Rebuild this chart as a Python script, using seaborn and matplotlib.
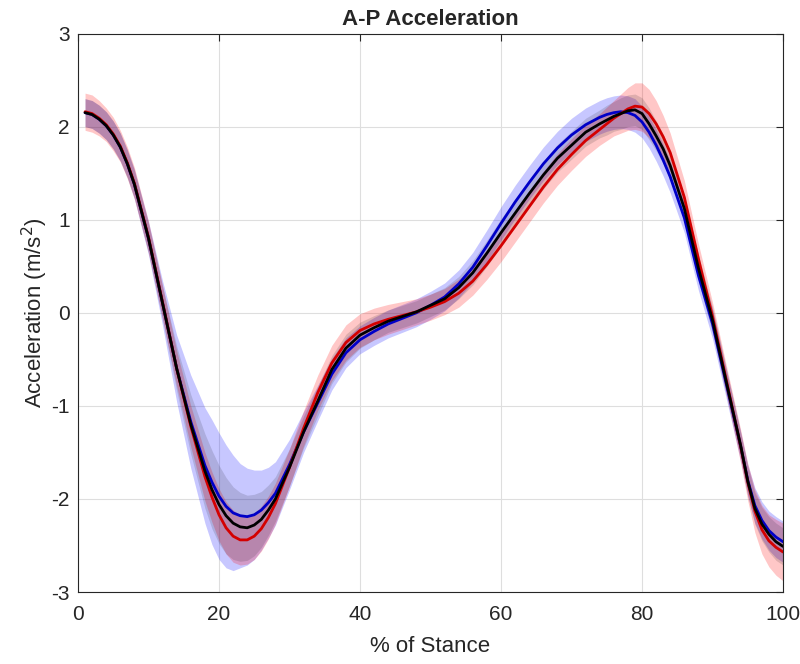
import pandas as pd
import matplotlib
matplotlib.use('Agg')
import matplotlib.pyplot as plt
import seaborn as sns

# % of stance sample points (denser where the curves bend)
stance = [1, 2, 3, 4, 5, 6, 7, 8, 10, 12, 14, 16, 18, 19, 20, 21, 22, 23, 24, 25,
          26, 27, 28, 30, 32, 34, 36, 38, 40, 42, 44, 46, 48, 50, 52, 54, 56, 58, 60, 62,
          64, 66, 68, 70, 72, 74, 75, 76, 77, 78, 79, 80, 81, 82, 83, 84, 86, 88, 90, 92,
          94, 95, 96, 97, 98, 99, 100]

# mean curves
black_mean = [2.15, 2.13, 2.08, 2.01, 1.91, 1.78, 1.60, 1.38, 0.80, 0.10,
              -0.60, -1.20, -1.70, -1.90, -2.06, -2.18, -2.26, -2.30, -2.31, -2.28,
              -2.22, -2.12, -2.00, -1.66, -1.28, -0.95, -0.61, -0.38, -0.24, -0.16,
              -0.09, -0.04, 0.01, 0.08, 0.15, 0.27, 0.43, 0.64, 0.86, 1.07,
              1.28, 1.48, 1.66, 1.80, 1.94, 2.03, 2.07, 2.11, 2.14, 2.17,
              2.18, 2.14, 2.03, 1.90, 1.76, 1.58, 1.12, 0.48, -0.08, -0.76,
              -1.43, -1.81, -2.10, -2.27, -2.38, -2.46, -2.51]
blue_mean = [2.15, 2.13, 2.08, 2.01, 1.91, 1.78, 1.60, 1.38, 0.80, 0.10,
             -0.60, -1.17, -1.64, -1.82, -1.97, -2.08, -2.15, -2.18, -2.19, -2.17,
             -2.12, -2.04, -1.94, -1.63, -1.28, -0.97, -0.66, -0.43, -0.29, -0.20,
             -0.12, -0.06, 0.00, 0.08, 0.17, 0.31, 0.49, 0.72, 0.96, 1.19,
             1.40, 1.60, 1.77, 1.91, 2.02, 2.10, 2.13, 2.15, 2.16, 2.15,
             2.12, 2.05, 1.94, 1.80, 1.64, 1.46, 1.02, 0.40, -0.12, -0.78,
             -1.44, -1.80, -2.07, -2.23, -2.34, -2.41, -2.46]
red_mean = [2.16, 2.14, 2.09, 2.02, 1.92, 1.79, 1.61, 1.39, 0.81, 0.11,
            -0.60, -1.22, -1.76, -1.98, -2.17, -2.31, -2.40, -2.44, -2.44, -2.40,
            -2.32, -2.20, -2.05, -1.66, -1.24, -0.86, -0.54, -0.32, -0.19, -0.12,
            -0.07, -0.03, 0.01, 0.06, 0.12, 0.21, 0.34, 0.52, 0.72, 0.93,
            1.14, 1.35, 1.54, 1.70, 1.85, 1.97, 2.03, 2.09, 2.14, 2.19,
            2.22, 2.21, 2.14, 2.03, 1.89, 1.72, 1.24, 0.58, -0.04, -0.74,
            -1.44, -1.82, -2.13, -2.33, -2.45, -2.52, -2.57]

# standard deviations (shaded bands)
black_sd = [0.15, 0.15, 0.15, 0.15, 0.15, 0.15, 0.15, 0.15, 0.16, 0.18,
            0.24, 0.32, 0.40, 0.42, 0.42, 0.41, 0.39, 0.37, 0.35, 0.33,
            0.30, 0.27, 0.24, 0.20, 0.17, 0.16, 0.15, 0.15, 0.14, 0.13,
            0.12, 0.12, 0.12, 0.12, 0.12, 0.12, 0.13, 0.14, 0.15, 0.15,
            0.15, 0.15, 0.15, 0.15, 0.15, 0.15, 0.16, 0.16, 0.17, 0.17,
            0.17, 0.17, 0.17, 0.16, 0.16, 0.15, 0.14, 0.14, 0.14, 0.14,
            0.14, 0.16, 0.17, 0.18, 0.19, 0.20, 0.20]
blue_sd = [0.15, 0.15, 0.15, 0.15, 0.15, 0.15, 0.15, 0.16, 0.18, 0.24,
           0.36, 0.50, 0.62, 0.67, 0.68, 0.66, 0.62, 0.56, 0.52, 0.48,
           0.43, 0.38, 0.34, 0.27, 0.22, 0.19, 0.17, 0.16, 0.15, 0.15,
           0.15, 0.15, 0.15, 0.15, 0.15, 0.15, 0.16, 0.17, 0.18, 0.18,
           0.18, 0.18, 0.18, 0.18, 0.18, 0.18, 0.18, 0.18, 0.18, 0.18,
           0.18, 0.17, 0.17, 0.17, 0.17, 0.17, 0.16, 0.16, 0.16, 0.16,
           0.16, 0.17, 0.19, 0.20, 0.21, 0.22, 0.22]
red_sd = [0.20, 0.20, 0.19, 0.18, 0.18, 0.17, 0.17, 0.17, 0.17, 0.18,
          0.19, 0.22, 0.26, 0.27, 0.28, 0.28, 0.28, 0.27, 0.26, 0.25,
          0.24, 0.23, 0.22, 0.20, 0.19, 0.19, 0.19, 0.19, 0.18, 0.17,
          0.16, 0.15, 0.14, 0.14, 0.14, 0.15, 0.15, 0.16, 0.17, 0.17,
          0.17, 0.17, 0.17, 0.17, 0.17, 0.17, 0.18, 0.19, 0.21, 0.23,
          0.25, 0.26, 0.26, 0.25, 0.23, 0.21, 0.18, 0.16, 0.15, 0.16,
          0.18, 0.20, 0.23, 0.26, 0.28, 0.30, 0.31]

groups = ['blue', 'red', 'black']
line_colors = {'blue': '#0000c8', 'red': '#d40000', 'black': '#000000'}
band_colors = {'blue': '#0000ff', 'red': '#ff0000', 'black': '#000000'}
band_alpha = {'blue': 0.22, 'red': 0.22, 'black': 0.13}

means = {'blue': blue_mean, 'red': red_mean, 'black': black_mean}
sds = {'blue': blue_sd, 'red': red_sd, 'black': black_sd}

rows = []
for g in groups:
    for x, m, s in zip(stance, means[g], sds[g]):
        rows.append({'stance': x, 'acc': m, 'sd': s, 'group': g})
df = pd.DataFrame(rows)

sns.set_style('white')
plt.rcParams['font.family'] = ['Liberation Sans', 'DejaVu Sans']
plt.rcParams['axes.unicode_minus'] = False

fig = plt.figure(figsize=(8, 6.64), dpi=100)
ax = fig.add_axes([0.0975, 0.1084, 0.8813, 0.8411])

for g in groups:
    d = df[df['group'] == g]
    ax.fill_between(d['stance'], d['acc'] - d['sd'], d['acc'] + d['sd'],
                    color=band_colors[g], alpha=band_alpha[g], lw=0)

sns.lineplot(data=df, x='stance', y='acc', hue='group', hue_order=groups,
             palette=line_colors, lw=2, legend=False, ax=ax, sort=True)

ax.set_xlim(0, 100)
ax.set_ylim(-3, 3)
ax.set_xticks([0, 20, 40, 60, 80, 100])
ax.set_yticks([-3, -2, -1, 0, 1, 2, 3])
ax.grid(True, color='#dedede', lw=0.8)
ax.set_axisbelow(True)
for sp in ax.spines.values():
    sp.set_color('#262626')
    sp.set_linewidth(0.8)
ax.tick_params(direction='in', length=5, width=0.8, colors='#262626',
               labelsize=15, top=True, right=True, labelcolor='#262626')
ax.tick_params(axis='x', pad=9)
ax.tick_params(axis='y', pad=6)
ax.set_xlabel('% of Stance', fontsize=16, color='#262626', labelpad=9)
ax.set_ylabel('Acceleration (m/s$^2$)', fontsize=16, color='#262626', labelpad=1)
ax.set_title('A-P Acceleration', fontsize=16, fontweight='bold', pad=6)

fig.savefig('out.png', dpi=100)
